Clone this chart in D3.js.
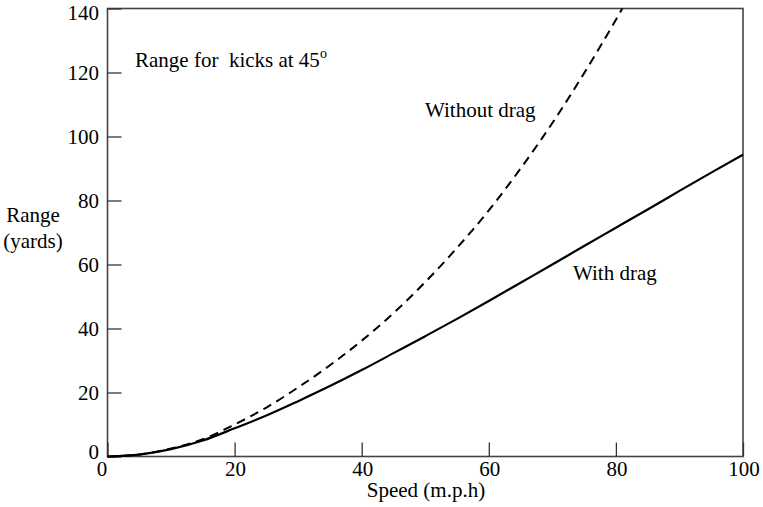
<!DOCTYPE html>
<html><head><meta charset="utf-8">
<script src="https://cdn.jsdelivr.net/npm/d3@7"></script>
<style>body{margin:0;background:#fff}text{font-family:"Liberation Serif","Times New Roman",serif;fill:#000}</style>
</head><body><svg id="c" width="763" height="507"></svg>
<script>
const speedsNoDrag = [0, 5, 10, 15, 20, 25, 30, 35, 40, 45, 50, 55, 60, 65, 70, 75, 80, 81];
const rangeNoDrag  = [0, 0.6, 2.5, 5.4, 10.0, 15.3, 21.6, 28.5, 36.2, 44.8, 54.5, 65.2, 76.9, 90.0, 104.2, 119.8, 136.5, 140];
const speedsDrag = [0, 5, 10, 15, 20, 25, 30, 35, 40, 45, 50, 55, 60, 65, 70, 75, 80, 85, 90, 95, 100];
const rangeDrag  = [0, 0.6, 2.3, 5.0, 8.8, 12.8, 17.3, 22.0, 27.0, 32.3, 37.6, 43.0, 48.6, 54.3, 60.0, 65.8, 71.5, 77.2, 83.0, 88.7, 94.3];
const xTicks = [0, 20, 40, 60, 80, 100];
const yTicks = [0, 20, 40, 60, 80, 100, 120, 140];

const svg = d3.select("#c");
const L = 107.5, R = 743, T = 8.5, B = 456.5;
const x = d3.scaleLinear().domain([0, 100]).range([L, R]);
const y = d3.scaleLinear().domain([0, 140]).range([B, T]);
const FS = 21;

// frame
svg.append("rect").attr("x", L).attr("y", T).attr("width", R - L).attr("height", B - T)
  .attr("fill", "none").attr("stroke", "#444").attr("stroke-width", 1.6);

// axes with inward ticks
const xa = svg.append("g").attr("transform", `translate(0,${B})`)
  .call(d3.axisTop(x).tickValues(xTicks).tickSize(14).tickFormat(""));
xa.select(".domain").remove();
xa.selectAll("line").attr("stroke", "#333").attr("stroke-width", 1.3);
const ya = svg.append("g").attr("transform", `translate(${L},0)`)
  .call(d3.axisRight(y).tickValues(yTicks).tickSize(14).tickFormat(""));
ya.select(".domain").remove();
ya.selectAll("line").attr("stroke", "#333").attr("stroke-width", 1.3);

// tick labels
svg.append("g").selectAll("text").data(xTicks).join("text")
  .attr("x", d => d === 0 ? x(d) - 5.5 : x(d) + 1).attr("y", 476).attr("text-anchor", "middle")
  .attr("font-size", FS).text(d => d);
svg.append("g").selectAll("text").data(yTicks).join("text")
  .attr("x", 99).attr("y", d => d === 140 ? 20 : d === 0 ? 458.5 : y(d) + 7.5)
  .attr("text-anchor", "end").attr("font-size", FS).text(d => d);

// curves
const line = d3.line().x(d => x(d[0])).y(d => y(d[1])).curve(d3.curveMonotoneX);
svg.append("path").datum(speedsNoDrag.map((s, i) => [s, rangeNoDrag[i]]))
  .attr("d", line).attr("fill", "none").attr("stroke", "#000").attr("stroke-width", 2)
  .attr("stroke-dasharray", "9,6");
svg.append("path").datum(speedsDrag.map((s, i) => [s, rangeDrag[i]]))
  .attr("d", line).attr("fill", "none").attr("stroke", "#000").attr("stroke-width", 2.2);

// labels
svg.append("text").attr("x", 426).attr("y", 497).attr("text-anchor", "middle")
  .attr("font-size", FS).text("Speed (m.p.h)");
svg.append("text").attr("x", 33).attr("y", 222).attr("text-anchor", "middle")
  .attr("font-size", FS).text("Range");
svg.append("text").attr("x", 33).attr("y", 248).attr("text-anchor", "middle")
  .attr("font-size", FS).text("(yards)");
const t = svg.append("text").attr("x", 135).attr("y", 67).attr("font-size", FS)
  .attr("xml:space", "preserve");
t.append("tspan").text("Range for  kicks at 45");
t.append("tspan").attr("font-size", 14).attr("dy", -9).text("o");
svg.append("text").attr("x", 425).attr("y", 117).attr("font-size", FS).text("Without drag");
svg.append("text").attr("x", 573).attr("y", 280).attr("font-size", FS).text("With drag");
</script></body></html>
